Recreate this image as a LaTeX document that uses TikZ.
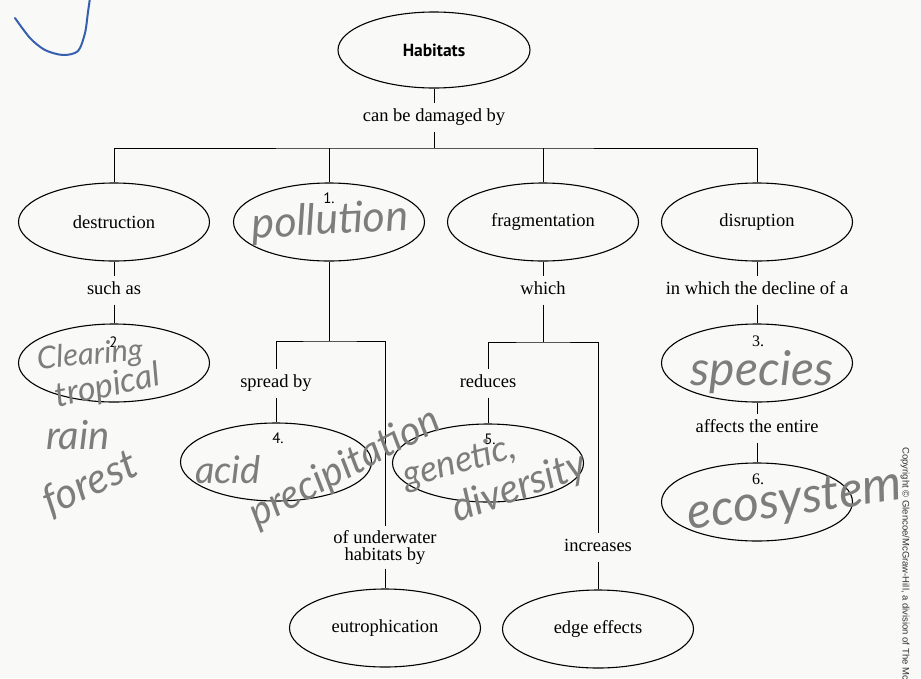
\documentclass[tikz,border=0pt]{standalone}
\usepackage{fontspec}
\setmainfont{Liberation Serif}
\newfontfamily\headfont{PT Sans}
\newfontfamily\handfont{Lato}
\newfontfamily\notefont{Liberation Sans}
\usetikzlibrary{shapes.geometric}
\definecolor{paper}{RGB}{249,249,247}
\definecolor{pencil}{RGB}{125,125,125}
\definecolor{pen}{RGB}{55,95,175}

\begin{document}
\begin{tikzpicture}[x=1pt,y=-1pt,line width=1pt,
  ell/.style={draw,ellipse,minimum width=191pt,minimum height=78pt,inner sep=0pt,line width=1.1pt},
  lab/.style={font=\fontsize{18.5}{20}\selectfont,text height=13pt,text depth=4pt,inner sep=5.5pt},
  num/.style={font=\headfont\fontsize{15}{16}\selectfont},
  hand/.style={text=pencil,font=\handfont\itshape\fontsize{32}{34}\selectfont},
  hsize/.style={font=\handfont\itshape\fontsize{#1}{#1}\selectfont}]
\useasboundingbox (0,0) rectangle (921,678);
\clip (0,0) rectangle (921,678);
\fill[paper] (0,0) rectangle (921,678);
\draw[pen,line width=2pt,line cap=round] plot[smooth] coordinates {(15,18) (30,38) (45,50) (63,55) (78,51) (85,33) (88,12) (90,-2)};

\node[ell,minimum width=192pt,minimum height=76pt,font=\headfont\bfseries\fontsize{17.5}{19}\selectfont] (hab) at (434,50) {Habitats};
\node[lab] (dmg) at (434,117) {can be damaged by};
\coordinate (bar) at (434,148);

\node[ell] (dest) at (114,222) {\fontsize{18.5}{20}\selectfont destruction};
\node[ell] (poll) at (329,222) {};
\node[ell] (frag) at (543,222) {\fontsize{18.5}{20}\selectfont fragmentation};
\node[ell] (disr) at (757,222) {\fontsize{18.5}{20}\selectfont disruption};

\node[lab] (such) at (114,290) {such as};
\node[lab] (which) at (543,290) {which};
\node[lab] (decl) at (757,290) {in which the decline of a};
\coordinate (pbar) at (329,341);
\coordinate (fbar) at (543,342);

\node[ell] (ans2) at (114,363) {};
\node[ell] (ans3) at (757,363) {};
\node[lab] (spread) at (276,383) {spread by};
\node[lab] (reduc) at (488,383) {reduces};
\node[lab] (affect) at (757,428) {affects the entire};
\node[ell] (ans4) at (276,462) {};
\node[ell] (ans5) at (488,463) {};
\node[ell] (ans6) at (757,502) {};
\node[font=\fontsize{18.5}{20}\selectfont,align=center,inner sep=4pt] (under) at (385,547) {of underwater\\[-3pt]habitats by};
\node[lab] (incr) at (598,547) {increases};
\node[ell] (eutro) at (385,628) {\fontsize{18.5}{20}\selectfont eutrophication};
\node[ell] (edge) at (598,629) {\fontsize{18.5}{20}\selectfont edge effects};

\node[num] (n1) at (329,198) {1.};
\node[num] (n2) at (115,342) {2.};
\node[num,font=\fontsize{16}{18}\selectfont] (n3) at (758,341) {3.};
\node[num] (n4) at (278,438) {4.};
\node[num] (n5) at (490,439) {5.};
\node[num,font=\fontsize{16}{18}\selectfont] (n6) at (758,479) {6.};

\draw (hab) -- (dmg);
\draw (dmg) -- (bar);
\draw (dest) |- (bar) -| (disr);
\draw (poll) -- (poll |- bar);
\draw (frag) -- (frag |- bar);
\draw (dest) -- (such) -- (ans2);
\draw (disr) -- (decl) -- (ans3) -- (affect) -- (ans6);
\draw (poll) -- (pbar);
\draw (spread) |- (pbar) -| (under);
\draw (spread) -- (ans4);
\draw (under) -- (eutro);
\draw (frag) -- (which) -- (fbar);
\draw (reduc) |- (fbar) -| (incr);
\draw (reduc) -- (ans5);
\draw (incr) -- (edge);

\node[hand,rotate=3,hsize=43] (h1) at (330,222) {pollution};
\node[hand,rotate=5,hsize=31] (h2a) at (90,356) {Clearing};
\node[hand,rotate=12,hsize=34] (h2b) at (108,387) {tropical};
\node[hand,hsize=40] (h2c) at (78,435) {rain};
\node[hand,rotate=25,hsize=42] (h2d) at (90,484) {forest};
\node[hand,hsize=38] (h4a) at (228,470) {acid};
\node[hand,rotate=28,hsize=40] (h4b) at (345,468) {precipitation};
\node[hand,rotate=15,hsize=36] (h5a) at (460,463) {genetic,};
\node[hand,rotate=20,hsize=40] (h5b) at (520,488) {diversity};
\node[hand,hsize=48] (h3) at (762,372) {species};
\node[hand,rotate=8,hsize=50] (h6) at (795,502) {ecosystem};

\node[font=\notefont\fontsize{9.5}{10}\selectfont,text=black!80,rotate=-90,anchor=west,inner sep=0pt] (copy) at (905,447) {Copyright © Glencoe/McGraw-Hill, a division of The McGraw-Hill Companies, Inc.};
\end{tikzpicture}
\end{document}
